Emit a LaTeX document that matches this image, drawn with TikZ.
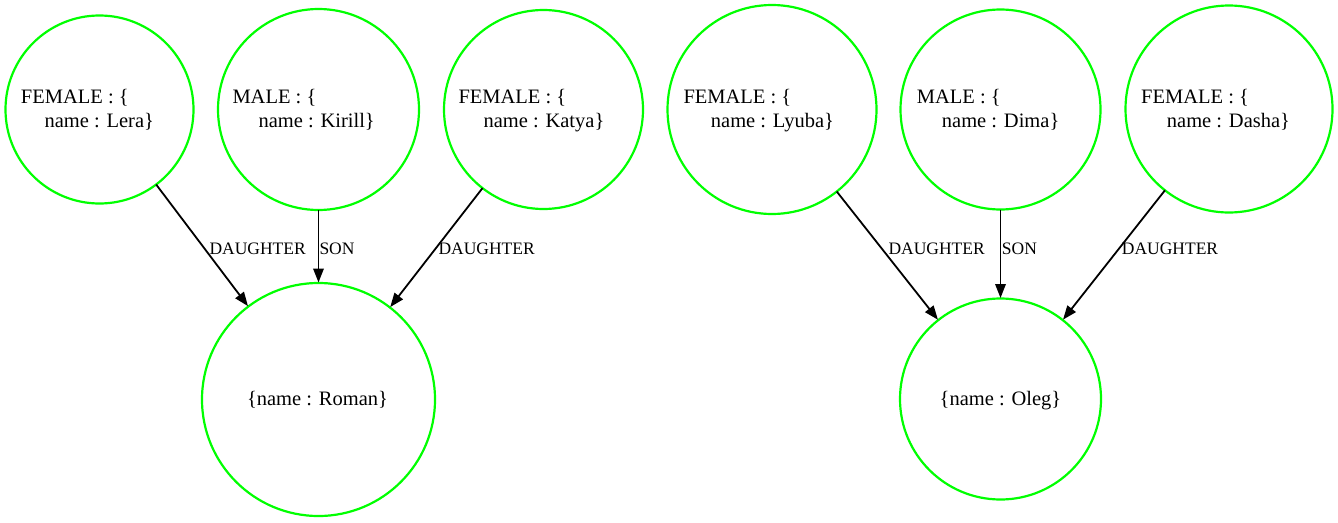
\documentclass[tikz,border=0pt]{standalone}
\usepackage{fontspec}
\setmainfont{Liberation Serif}
\usetikzlibrary{arrows.meta}
\definecolor{gvgreen}{HTML}{00FF00}
\tikzset{
  person/.style={circle, draw=gvgreen, line width=2.2pt, inner sep=0pt, outer sep=0pt},
  txt/.style={inner sep=0pt, anchor=base west, font=\fontsize{20.5}{24}\selectfont},
  ctxt/.style={inner sep=0pt, anchor=base, font=\fontsize{20.5}{24}\selectfont},
  elabel/.style={inner sep=0pt, anchor=base west, font=\fontsize{17.5}{20}\selectfont},
  edge/.style={line width=1.8pt, -{Triangle[length=14pt,width=10.5pt]}, shorten >=0.5pt}
}
\begin{document}
\begin{tikzpicture}[x=1pt,y=-1pt]
\useasboundingbox (0,0) rectangle (1338,522);
% top row
\node[person, minimum size=188pt] (lera)   at (99.5,109.5) {};
\node[person, minimum size=201pt] (kirill) at (318.5,109.5) {};
\node[person, minimum size=199pt] (katya)  at (543.5,109.5) {};
\node[person, minimum size=209pt] (lyuba)  at (772,109.5) {};
\node[person, minimum size=200pt] (dima)   at (1000.5,109.5) {};
\node[person, minimum size=207pt] (dasha)  at (1229,109) {};
% bottom row
\node[person, minimum size=233pt] (roman) at (318.5,399.5) {};
\node[person, minimum size=201pt] (oleg)  at (1000.5,399) {};
% texts
\node[txt] (leraA)   at (20.7,103.4) {FEMALE : \{};
\node[txt] (leraB)   at (44.3,127.6) {name : Lera\}};
\node[txt] (kirillA) at (232.3,103.4) {MALE : \{};
\node[txt] (kirillB) at (258.3,127.6) {name : Kirill\}};
\node[txt] (katyaA)  at (458.3,103.4) {FEMALE : \{};
\node[txt] (katyaB)  at (483.3,127.6) {name : Katya\}};
\node[txt] (lyubaA)  at (683.3,103.4) {FEMALE : \{};
\node[txt] (lyubaB)  at (710.7,127.6) {name : Lyuba\}};
\node[txt] (dimaA)   at (916.7,103.4) {MALE : \{};
\node[txt] (dimaB)   at (941.7,127.6) {name : Dima\}};
\node[txt] (dashaA)  at (1141,103.4) {FEMALE : \{};
\node[txt] (dashaB)  at (1166.7,127.6) {name : Dasha\}};
\node[ctxt] (romanT) at (317.5,405) {\{name : Roman\}};
\node[ctxt] (olegT)  at (1000.5,405) {\{name : Oleg\}};
% edges
\draw[edge] (lera) -- (roman);
\draw[edge] (kirill) -- (roman);
\draw[edge] (katya) -- (roman);
\draw[edge] (lyuba) -- (oleg);
\draw[edge] (dima) -- (oleg);
\draw[edge] (dasha) -- (oleg);
% edge labels
\node[elabel] (l1) at (209.3,254) {DAUGHTER};
\node[elabel] (l2) at (319.3,254) {SON};
\node[elabel] (l3) at (438.3,254) {DAUGHTER};
\node[elabel] (l4) at (888.3,254) {DAUGHTER};
\node[elabel] (l5) at (1001.7,254) {SON};
\node[elabel] (l6) at (1121.7,254) {DAUGHTER};
\end{tikzpicture}
\end{document}
